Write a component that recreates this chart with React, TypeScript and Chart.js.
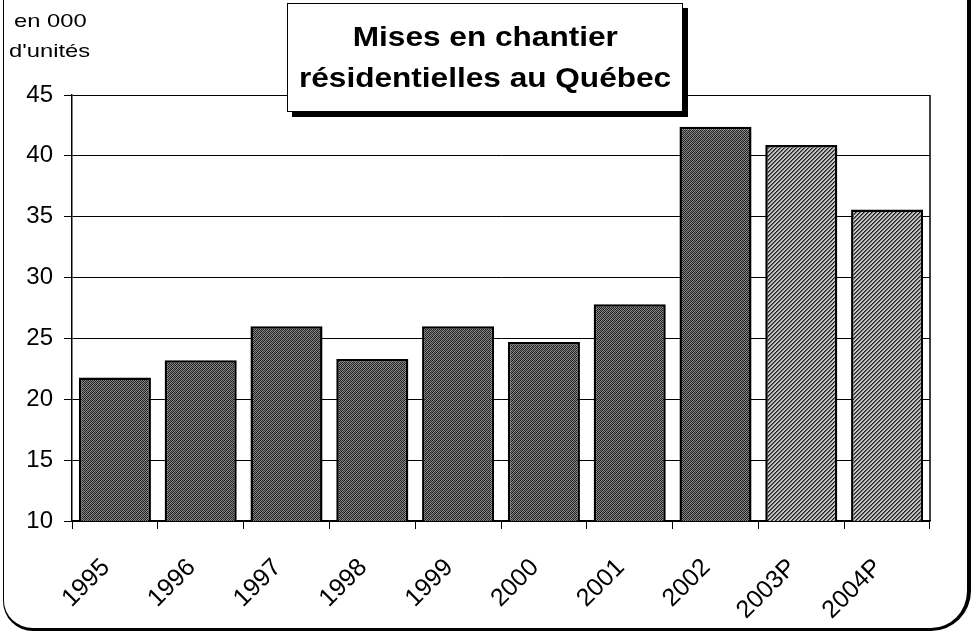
import React, { useEffect, useRef } from "react";
import { Chart, registerables } from "chart.js";

Chart.register(...registerables);

const categories = ["1995", "1996", "1997", "1998", "1999", "2000", "2001", "2002", "2003P", "2004P"];
const starts = [21.8, 23.2, 26.0, 23.3, 26.0, 24.7, 27.8, 42.4, 40.9, 35.6];
const isForecast = [false, false, false, false, false, false, false, false, true, true];
const yMin = 10;
const yMax = 45;
const yStep = 5;
const titleLines = ["Mises en chantier", "résidentielles au Québec"];
const unitLines = ["en 000", "d'unités"];

const FONT = "Arial, 'Liberation Sans', Helvetica, sans-serif";

function makeStipple(): CanvasPattern | string {
  const c = document.createElement("canvas");
  c.width = 4;
  c.height = 4;
  const g = c.getContext("2d");
  if (!g) return "#4c4c4c";
  const cols = [
    ["#1e1e1e", "#8a8a8a", "#2a2a2a", "#7a7a7a"],
    ["#909090", "#262626", "#808080", "#1a1a1a"],
    ["#2e2e2e", "#767676", "#222222", "#8e8e8e"],
    ["#7e7e7e", "#1c1c1c", "#949494", "#303030"],
  ];
  for (let y = 0; y < 4; y++) for (let x = 0; x < 4; x++) {
    g.fillStyle = cols[y][x];
    g.fillRect(x, y, 1, 1);
  }
  return g.createPattern(c, "repeat") || "#4c4c4c";
}

function makeHatch(): CanvasPattern | string {
  const c = document.createElement("canvas");
  c.width = 4;
  c.height = 4;
  const g = c.getContext("2d");
  if (!g) return "#999";
  g.fillStyle = "#c4c4c4";
  g.fillRect(0, 0, 4, 4);
  g.fillStyle = "#222222";
  for (let i = 0; i < 4; i++) g.fillRect(i, 3 - i, 1, 1);
  g.fillStyle = "#5e5e5e";
  for (let i = 0; i < 4; i++) g.fillRect(i, (4 - i) % 4, 1, 1);
  return g.createPattern(c, "repeat") || "#999";
}

const frameBorderPlugin = {
  id: "frameBorder",
  afterDraw(chart: any) {
    const { ctx, chartArea } = chart;
    ctx.save();
    ctx.strokeStyle = "#000";
    ctx.lineWidth = 1.5;
    ctx.beginPath();
    ctx.moveTo(chartArea.right, chartArea.top);
    ctx.lineTo(chartArea.right, chartArea.bottom);
    ctx.stroke();
    ctx.restore();
  },
};

export default function App() {
  const ref = useRef<HTMLCanvasElement | null>(null);

  useEffect(() => {
    if (!ref.current) return;
    const stipple = makeStipple();
    const hatch = makeHatch();
    const chart = new Chart(ref.current, {
      type: "bar",
      data: {
        labels: categories,
        datasets: [
          {
            data: starts,
            backgroundColor: isForecast.map((f) => (f ? hatch : stipple)) as any,
            borderColor: "#000",
            borderWidth: 2.5,
            borderSkipped: false,
            categoryPercentage: 1,
            barPercentage: 0.84,
          },
        ],
      },
      options: {
        animation: false,
        responsive: true,
        maintainAspectRatio: false,
        events: [],
        layout: { padding: { left: 0, right: 41, top: 95, bottom: 0 } },
        plugins: {
          legend: { display: false },
          tooltip: { enabled: false },
          title: { display: false },
        },
        scales: {
          x: {
            grid: {
              display: true,
              drawOnChartArea: false,
              drawTicks: true,
              tickLength: 8,
              offset: true,
              color: "#000",
              lineWidth: 1,
            },
            border: { display: true, color: "#000", width: 1.5 },
            ticks: {
              color: "#000",
              font: { family: FONT, size: 25 },
              minRotation: 45,
              maxRotation: 45,
              padding: 24,
              labelOffset: -9,
              autoSkip: false,
            },
            afterFit(scale: any) {
              scale.height = 113;
            },
          },
          y: {
            min: yMin,
            max: yMax,
            grid: {
              color: "#000",
              lineWidth: 1,
              tickLength: 8,
              drawTicks: true,
            },
            border: { display: true, color: "#000", width: 1.5 },
            ticks: {
              stepSize: yStep,
              color: "#000",
              font: { family: FONT, size: 24 },
              padding: 11,
            },
            afterFit(scale: any) {
              scale.width = 72;
            },
          },
        },
      },
      plugins: [frameBorderPlugin],
    });
    return () => chart.destroy();
  }, []);

  return (
    <div
      style={{
        position: "absolute",
        left: 0,
        top: 0,
        width: 971,
        height: 634,
        background: "#fff",
        overflow: "hidden",
        fontFamily: FONT,
      }}
    >
      <div style={{ position: "absolute", left: 0, top: 0, width: 971, height: 634 }}>
        <canvas ref={ref} />
      </div>
      <div
        style={{
          position: "absolute",
          left: 3,
          top: -30,
          width: 968,
          height: 661,
          borderLeft: "1.5px solid #000",
          borderRight: "4px solid #000",
          borderBottom: "3px solid #000",
          borderBottomLeftRadius: 30,
          borderBottomRightRadius: 40,
          boxSizing: "border-box",
          pointerEvents: "none",
        }}
      />
      <div style={{ position: "absolute", left: 9, top: 6, fontSize: 19, lineHeight: "30px", color: "#000", transform: "scaleX(1.25)", transformOrigin: "left top" }}>
        <div style={{ paddingLeft: 4 }}>{unitLines[0]}</div>
        <div>{unitLines[1]}</div>
      </div>
      <div
        style={{
          position: "absolute",
          left: 287,
          top: 3,
          width: 396,
          height: 109,
          boxSizing: "border-box",
          border: "1px solid #000",
          boxShadow: "5px 5px 0 #000",
          background: "#fff",
          display: "flex",
          flexDirection: "column",
          alignItems: "center",
          justifyContent: "center",
          fontWeight: "bold",
          fontSize: 27,
          lineHeight: "41px",
          color: "#000",
        }}
      >
        {titleLines.map((t) => (
          <div key={t} style={{ transform: "scaleX(1.17)", whiteSpace: "nowrap" }}>{t}</div>
        ))}
      </div>
    </div>
  );
}
